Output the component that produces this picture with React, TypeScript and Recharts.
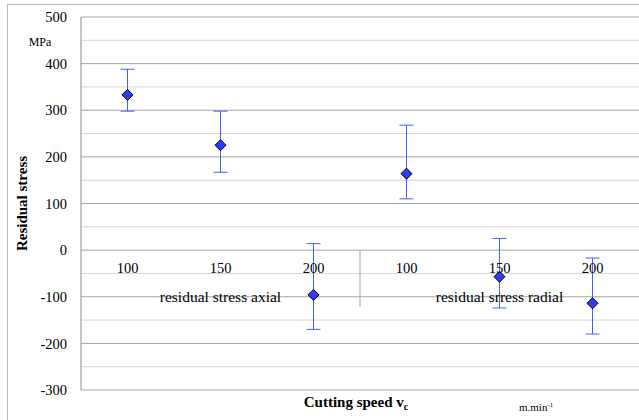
import {
  ComposedChart,
  Line,
  XAxis,
  YAxis,
  CartesianGrid,
  ErrorBar,
  ReferenceLine,
  ReferenceDot,
} from "recharts";

const speeds = ["100", "150", "200", "100", "150", "200"];
const groups = ["residual stress axial", "residual srress radial"];
const stress = [333, 225, -96, 164, -57, -114];
const stressLow = [298, 167, -170, 110, -124, -180];
const stressHigh = [388, 298, 14, 268, 25, -17];

const majorTicks = [-300, -200, -100, 0, 100, 200, 300, 400, 500];
const minorTicks = [-250, -150, -50, 50, 150, 250, 350, 450];
const groupSplits = [3.5];

const data = speeds.map((s, i) => ({
  pos: i + 1,
  speed: s,
  stress: stress[i],
  err: [stress[i] - stressLow[i], stressHigh[i] - stress[i]],
}));

const FONT = '"Liberation Serif", "Times New Roman", serif';

const Diamond = (props: any) => {
  const { cx, cy } = props;
  if (cx == null || cy == null) return null;
  const r = 5.5;
  return (
    <path
      d={`M${cx},${cy - r}L${cx + r},${cy}L${cx},${cy + r}L${cx - r},${cy}Z`}
      fill="#2b3cff"
      stroke="#000"
      strokeWidth={1}
    />
  );
};

const YTitle = (props: any) => {
  const { x, y, height } = props.viewBox;
  const cx = x + 27;
  const cy = y + height / 2;
  return (
    <g fill="#000">
      <text
        x={cx}
        y={cy}
        transform={`rotate(-90, ${cx}, ${cy})`}
        textAnchor="middle"
        fontSize={15}
        fontWeight="bold"
      >
        Residual stress
      </text>
      <text x={x + 40} y={y + 29} textAnchor="middle" fontSize={12}>
        MPa
      </text>
    </g>
  );
};

const XTitle = (props: any) => {
  const { x, y, width } = props.viewBox;
  return (
    <g fill="#000">
      <text
        x={x + width / 2 - 4}
        y={y + 17}
        textAnchor="middle"
        fontSize={15}
        fontWeight="bold"
      >
        Cutting speed v
        <tspan fontSize={10} dy={3}>
          c
        </tspan>
      </text>
      <text x={x + 438} y={y + 21} fontSize={11}>
        m.min
        <tspan fontSize={7} dy={-4}>
          -1
        </tspan>
      </text>
    </g>
  );
};

export default function App() {
  return (
    <div
      style={{
        position: "absolute",
        left: 0,
        top: 0,
        width: 639,
        height: 420,
        overflow: "hidden",
        background: "#fff",
        fontFamily: FONT,
      }}
    >
      <div
        style={{
          position: "absolute",
          left: 7,
          top: 4,
          width: 700,
          height: 500,
          border: "1px solid #b8b8b8",
        }}
      />
      <div style={{ position: "absolute", left: 0, top: 0 }}>
        <ComposedChart
          width={639}
          height={420}
          data={data}
          margin={{ top: 17, right: 0, bottom: 0, left: 0 }}
        >
          <CartesianGrid vertical={false} stroke="#a6a6a6" />
          {minorTicks.map((v) => (
            <ReferenceLine key={v} y={v} stroke="#d6d6d6" />
          ))}
          <XAxis
            dataKey="pos"
            type="number"
            domain={[0.5, 6.5]}
            ticks={[]}
            tick={false}
            axisLine={false}
            tickLine={false}
            height={30}
            label={<XTitle />}
          />
          <YAxis
            type="number"
            domain={[-300, 500]}
            ticks={majorTicks}
            width={81}
            tickLine={false}
            axisLine={{ stroke: "#8c8c8c" }}
            tickMargin={8}
            tick={{ fontSize: 14.5, fill: "#000" }}
            label={<YTitle />}
          />
          {groupSplits.map((v) => (
            <ReferenceLine
              key={v}
              segment={[
                { x: v, y: 0 },
                { x: v, y: -122 },
              ]}
              stroke="#a0a0a0"
            />
          ))}
          {data.map((d) => (
            <ReferenceDot
              key={"c" + d.pos}
              x={d.pos}
              y={0}
              r={0}
              fill="none"
              stroke="none"
              label={{
                value: d.speed,
                position: "bottom",
                offset: 13,
                fontSize: 14.5,
                fill: "#000",
              }}
            />
          ))}
          {groups.map((g, i) => (
            <ReferenceDot
              key={g}
              x={2 + i * 3}
              y={-100}
              r={0}
              fill="none"
              stroke="none"
              label={{
                value: g,
                position: "center",
                fontSize: 15.5,
                fill: "#000",
              }}
            />
          ))}
          <Line
            dataKey="stress"
            stroke="none"
            dot={<Diamond />}
            activeDot={false}
            isAnimationActive={false}
          >
            <ErrorBar
              dataKey="err"
              direction="y"
              width={7}
              stroke="#4a5cff"
              strokeWidth={1}
            />
          </Line>
        </ComposedChart>
      </div>
    </div>
  );
}
